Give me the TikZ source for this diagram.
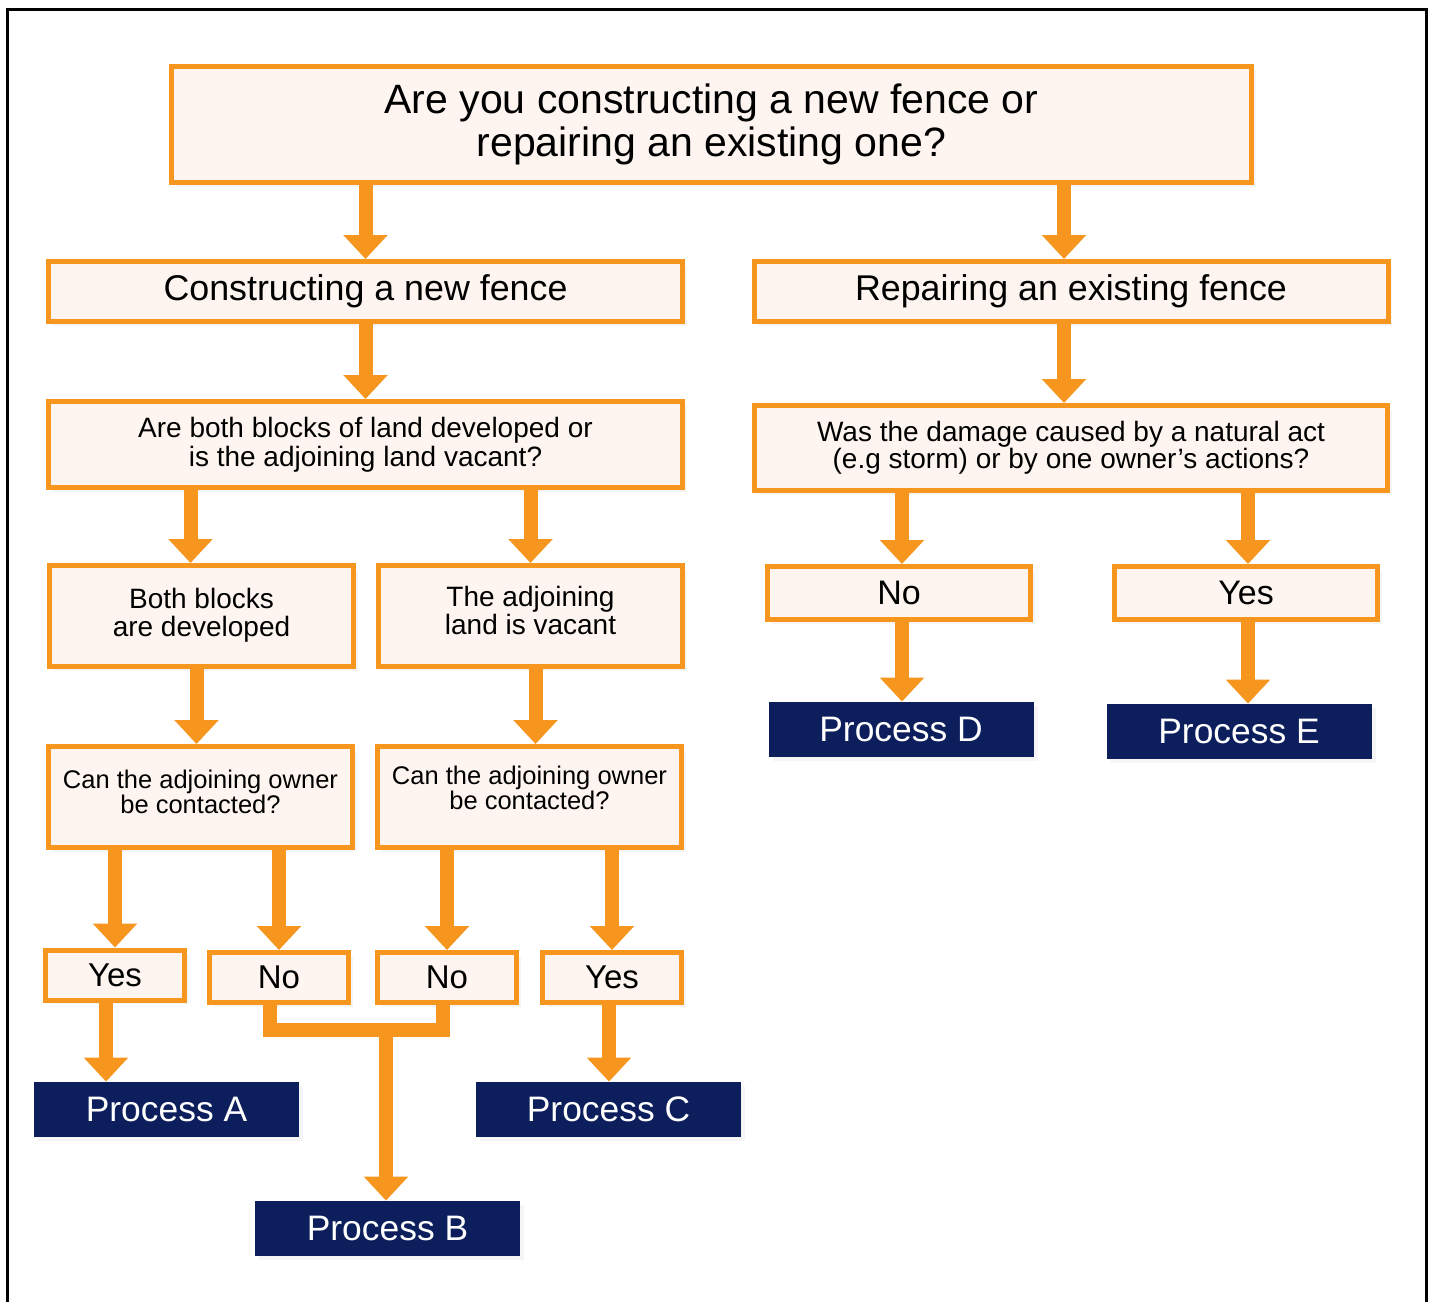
\documentclass[tikz,border=0pt]{standalone}
\usepackage{fontspec}
\setmainfont{Liberation Sans}
\usetikzlibrary{arrows.meta,calc,shadows}
\definecolor{forange}{HTML}{F7961F}
\definecolor{fpeach}{HTML}{FEF5F0}
\definecolor{fnavy}{HTML}{0C1F5C}
\tikzset{
  % peach question / answer boxes with a heavy orange rim
  qbox/.style  = {rectangle, draw=forange, fill=fpeach, line width=2.5pt, align=center,
                  inner sep=0pt, drop shadow={opacity=0.08, shadow xshift=2pt, shadow yshift=-2pt}},
  proc/.style  = {rectangle, fill=fnavy, text=white, inner sep=0pt, minimum width=132.5pt,
                  minimum height=27.5pt, font=\fontsize{17.7}{20}\selectfont,
                  drop shadow={opacity=0.08, shadow xshift=2pt, shadow yshift=-2pt}},
  ans/.style   = {qbox, minimum width=69.5pt, minimum height=25pt, font=\fontsize{16.5}{19}\selectfont},
  bigans/.style= {qbox, minimum width=131.5pt, minimum height=26.5pt, font=\fontsize{17}{19}\selectfont},
  arr/.style   = {-{Triangle[length=12pt,width=21.5pt]}, line width=7pt, forange},
  pipe/.style  = {line width=7pt, forange},
  frame/.style = {line width=1.5pt, black},
}
\begin{document}
\begin{tikzpicture}[x=0.5pt,y=-0.5pt]
\useasboundingbox (0,0) rectangle (1434,1302);
\draw[frame] (7.5,1302) |- (1426,9.5) -- (1426,1302);

% question tree
\node[qbox, minimum width=540pt, minimum height=58pt, font=\fontsize{20.5}{21.5}\selectfont]
  (top) at (711.5,124.5) {Are you constructing a new fence or\\repairing an existing one?};
\node[qbox, minimum width=317pt, minimum height=30pt, font=\fontsize{17.9}{20}\selectfont]
  (con) at (365.5,291.5) {Constructing a new fence};
\node[qbox, minimum width=317pt, minimum height=30pt, font=\fontsize{17.9}{20}\selectfont]
  (rep) at (1071,291.5) {Repairing an existing fence};
\node[qbox, minimum width=317pt, minimum height=43pt, font=\fontsize{14}{14.5}\selectfont]
  (areb) at (365.5,444.5) {Are both blocks of land developed or\\is the adjoining land vacant?};
\node[qbox, minimum width=316.5pt, minimum height=42.5pt, font=\fontsize{14}{13.5}\selectfont]
  (was) at (1071,448) {Was the damage caused by a natural act\\(e.g storm) or by one owner’s actions?};
\node[qbox, minimum width=152pt, minimum height=50.5pt, font=\fontsize{14}{14}\selectfont]
  (both) at (201.5,616) {Both blocks\\are developed\\[-10pt]};
\node[qbox, minimum width=152pt, minimum height=50.5pt, font=\fontsize{14}{14}\selectfont]
  (vac) at (530.5,616) {The adjoining\\land is vacant\\[-8pt]};
\node[qbox, minimum width=152pt, minimum height=50.5pt, font=\fontsize{12.75}{12.5}\selectfont]
  (canl) at (200.5,797) {Can the adjoining owner\\be contacted?\\[-7pt]};
\node[qbox, minimum width=152pt, minimum height=50.5pt, font=\fontsize{12.75}{12.5}\selectfont]
  (canr) at (529.5,797) {Can the adjoining owner\\be contacted?\\[-3.5pt]};

% answers
\node[ans] (yesl) at (115,975) {Yes};
\node[ans] (nol) at (279,977.5) {No};
\node[ans] (nor) at (447,977.5) {No};
\node[ans] (yesr) at (612,977.5) {Yes};
\node[bigans] (noR) at (899,593) {No};
\node[bigans] (yesR) at (1246,593) {Yes};

% outcomes
\node[proc] (pA) at (166.5,1109.5) {Process A};
\node[proc] (pB) at (387.5,1228.5) {Process B};
\node[proc] (pC) at (608.5,1109.5) {Process C};
\node[proc] (pD) at (901,729.5) {Process D};
\node[proc] (pE) at (1239,731.5) {Process E};

% connectors
\draw[arr] (top.south -| con.north) -- (con.north);
\draw[arr] ($(top.south -| rep.north)+(-7,0)$) -- ($(rep.north)+(-7,0)$);
\draw[arr] (con.south) -- (areb.north);
\draw[arr] ($(rep.south)+(-7,0)$) -- ($(was.north)+(-7,0)$);
\draw[arr] ($(areb.south -| both.north)+(-11,0)$) -- ($(both.north)+(-11,0)$);
\draw[arr] (areb.south -| vac.north) -- (vac.north);
\draw[arr] ($(both.south)+(-5,0)$) -- ($(both.south |- canl.north)+(-5,0)$);
\draw[arr] ($(vac.south)+(5,0)$) -- ($(vac.south |- canr.north)+(5,0)$);
\draw[arr] (canl.south -| yesl.north) -- (yesl.north);
\draw[arr] (canl.south -| nol.north) -- (nol.north);
\draw[arr] (canr.south -| nor.north) -- (nor.north);
\draw[arr] (canr.south -| yesr.north) -- (yesr.north);
\draw[arr] ($(yesl.south)+(-9,0)$) -- ($(yesl.south |- pA.north)+(-9,0)$);
\draw[arr] ($(yesr.south)+(-3,0)$) -- ($(yesr.south |- pC.north)+(-3,0)$);
% both "No" answers join before Process B
\coordinate (mrg) at ($(pB.north |- nol.south)+(-1.5,25)$);
\draw[pipe] ($(nol.south)+(-9,0)$) |- ($(nor.south |- mrg)+(-4,0)$) -- ($(nor.south)+(-4,0)$);
\draw[arr] (mrg) -- (mrg |- pB.north);
\draw[arr] ($(was.south -| noR.north)+(3,0)$) -- ($(noR.north)+(3,0)$);
\draw[arr] ($(was.south -| yesR.north)+(2,0)$) -- ($(yesR.north)+(2,0)$);
\draw[arr] ($(noR.south)+(3,0)$) -- ($(noR.south |- pD.north)+(3,0)$);
\draw[arr] ($(yesR.south)+(2,0)$) -- ($(yesR.south |- pE.north)+(2,0)$);
\end{tikzpicture}
\end{document}
